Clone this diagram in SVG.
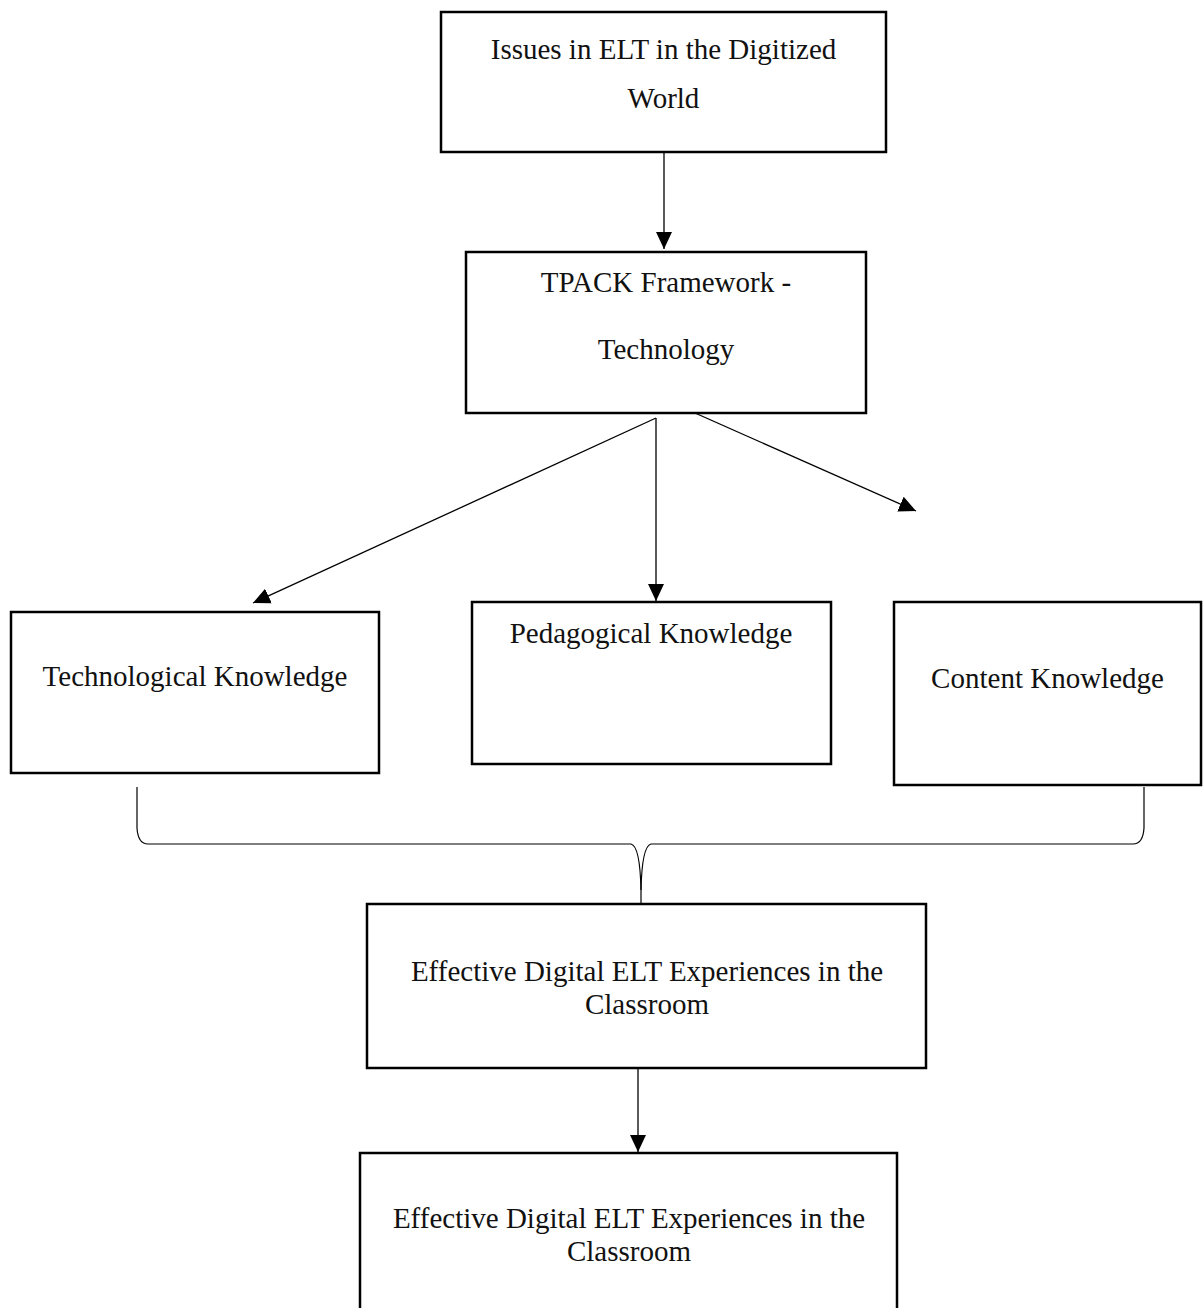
<svg xmlns="http://www.w3.org/2000/svg" width="1203" height="1308" viewBox="0 0 1203 1308">
  <style>
    .box { fill: #ffffff; stroke: #000000; stroke-width: 2.5; }
    .lbl { font-family: "Liberation Serif", "Times New Roman", serif; font-size: 29px; fill: #111111; text-anchor: middle; }
    .conn { fill: none; stroke: #000000; stroke-width: 1.3; }
    .brace { fill: none; stroke: #000000; stroke-width: 1.2; }
  </style>
  <defs>
    <marker id="arrow" markerUnits="userSpaceOnUse" markerWidth="18" markerHeight="18" viewBox="0 0 18 16" refX="17" refY="8" orient="auto">
      <path d="M0,0 L17,8 L0,16 Z" fill="#000000"/>
    </marker>
  </defs>
  <rect width="1203" height="1308" fill="#ffffff"/>

  <g id="connectors">
    <line class="conn" x1="664" y1="152" x2="664" y2="249" marker-end="url(#arrow)"/>
    <line class="conn" x1="656" y1="418" x2="253" y2="603" marker-end="url(#arrow)"/>
    <line class="conn" x1="656" y1="418" x2="656" y2="601" marker-end="url(#arrow)"/>
    <line class="conn" x1="695" y1="413" x2="916" y2="511" marker-end="url(#arrow)"/>
    <path class="brace" d="M137,787 L137,828 Q138,844 148,844 L631,844 Q640,846 641,890 L641,903"/>
    <path class="brace" d="M1144,787 L1144,828 Q1143,844 1133,844 L651,844 Q642,846 641,890"/>
    <line class="conn" x1="638" y1="1069" x2="638" y2="1152" marker-end="url(#arrow)"/>
  </g>

  <g id="node-issues">
    <rect class="box" x="441" y="12" width="445" height="140"/>
    <text class="lbl" x="663.5" y="59">Issues in ELT in the Digitized</text>
    <text class="lbl" x="663.5" y="108">World</text>
  </g>

  <g id="node-tpack">
    <rect class="box" x="466" y="252" width="400" height="161"/>
    <text class="lbl" x="666" y="292">TPACK Framework -</text>
    <text class="lbl" x="666" y="359">Technology</text>
  </g>

  <g id="node-tk">
    <rect class="box" x="11" y="612" width="368" height="161"/>
    <text class="lbl" x="195" y="686">Technological Knowledge</text>
  </g>

  <g id="node-pk">
    <rect class="box" x="472" y="602" width="359" height="162"/>
    <text class="lbl" x="651" y="643">Pedagogical Knowledge</text>
  </g>

  <g id="node-ck">
    <rect class="box" x="894" y="602" width="307" height="183"/>
    <text class="lbl" x="1047.5" y="688">Content Knowledge</text>
  </g>

  <g id="node-effective-1">
    <rect class="box" x="367" y="904" width="559" height="164"/>
    <text class="lbl" x="647" y="981">Effective Digital ELT Experiences in the</text>
    <text class="lbl" x="647" y="1014">Classroom</text>
  </g>

  <g id="node-effective-2">
    <rect class="box" x="360" y="1153" width="537" height="170"/>
    <text class="lbl" x="629" y="1228">Effective Digital ELT Experiences in the</text>
    <text class="lbl" x="629" y="1261">Classroom</text>
  </g>
</svg>
